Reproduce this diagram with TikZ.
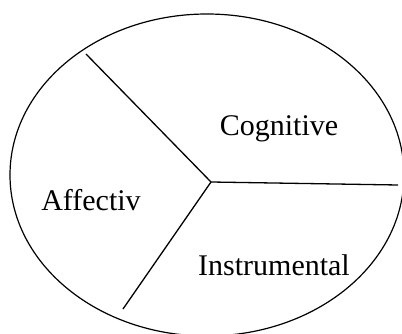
\documentclass[tikz,border=0pt]{standalone}
\usepackage{fontspec}
\setmainfont{Liberation Serif}
\usetikzlibrary{positioning}

\begin{document}
\begin{tikzpicture}[
    x=1pt, y=-1pt,
    rim/.style={draw, line width=1.2pt},
    spoke/.style={draw, line width=1.3pt},
    lbl/.style={anchor=base, inner sep=0pt, font=\fontsize{30}{36}\selectfont}
  ]
  \useasboundingbox (0,0) rectangle (402,334);
  \draw[rim] (207,175) ellipse [x radius=197pt, y radius=161pt];
  % hub and spoke ends
  \coordinate (hub) at (211,182);
  \coordinate (up) at (86,54);
  \coordinate (rt) at (398,185);
  \coordinate (dn) at (123,309);
  \draw[spoke] (up) -- (hub) -- (rt);
  \draw[spoke] (hub) -- (dn);
  % sector labels
  \node[lbl] (cog) at (279,136) {Cognitive};
  \node[lbl] (aff) at (91,211) {Affectiv};
  \node[lbl] (ins) at (274,275) {Instrumental};
\end{tikzpicture}
\end{document}
